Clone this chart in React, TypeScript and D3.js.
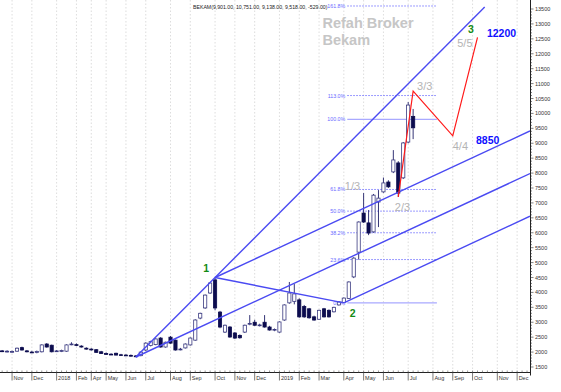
import React from "react";
import * as d3 from "d3";

// weekly candles, index = week number from the left edge
const opens = [2050, 2040, 2020, 2010, 2030, 2150, 2040, 2000, 1990, 2010, 2270, 2230, 2030, 2040, 2030, 2260, 2250, 2200, 2130, 2100, 2080, 2010, 1950, 1930, 1960, 1910, 1900, 1890, 1870, 1880, 2070, 2220, 2250, 2470, 2170, 2500, 2400, 2090, 2140, 2240, 2400, 3140, 3480, 3980, 4420, 3340, 2670, 2840, 2640, 2560, 2670, 2950, 3000, 2900, 3000, 2840, 2740, 2670, 3075, 3650, 3700, 3750, 3530, 3450, 3180, 3100, 3450, 3400, 3350, 3580, 3660, 3800, 4520, 5350, 6660, 6330, 6030, 7030, 7370, 7700, 8040, 8340, 7840, 9040, 9901];
const highs = [2080, 2070, 2060, 2050, 2150, 2180, 2070, 2040, 2050, 2260, 2300, 2250, 2070, 2080, 2260, 2330, 2290, 2230, 2160, 2130, 2100, 2040, 1990, 1960, 1980, 1940, 1930, 1920, 1900, 2020, 2330, 2380, 2460, 2500, 2350, 2540, 2420, 2140, 2290, 2490, 3100, 3320, 3930, 4330, 4500, 3380, 2920, 2870, 2670, 2590, 2920, 3240, 3080, 2950, 3240, 2880, 2790, 3030, 3600, 4350, 4280, 3800, 3580, 3480, 3220, 3420, 3480, 3430, 3520, 3700, 3830, 4370, 5180, 6380, 7330, 6760, 7300, 7430, 7850, 7760, 8770, 8400, 9040, 10380, 10150];
const lows = [2010, 2000, 1990, 1980, 2010, 2050, 1990, 1970, 1960, 1990, 2150, 1990, 2010, 2000, 2010, 2230, 2200, 2150, 2080, 2050, 1980, 1940, 1910, 1900, 1890, 1880, 1870, 1850, 1830, 1860, 2040, 2190, 2230, 2150, 2150, 2280, 2050, 2060, 2120, 2220, 2380, 3100, 3450, 3950, 3400, 2800, 2640, 2480, 2440, 2450, 2640, 2900, 2880, 2860, 2820, 2720, 2700, 2650, 3050, 3620, 3600, 3150, 3150, 3120, 3050, 3080, 3160, 3160, 3330, 3560, 3650, 3780, 4480, 5100, 6330, 5920, 6000, 6190, 7340, 7500, 8000, 7200, 7800, 9000, 9138];
const closes = [2040, 2030, 2030, 2020, 2130, 2070, 2010, 1990, 2020, 2240, 2170, 2010, 2040, 2050, 2240, 2270, 2230, 2170, 2100, 2080, 1990, 1950, 1930, 1920, 1900, 1900, 1890, 1880, 1860, 2000, 2300, 2350, 2440, 2170, 2330, 2300, 2070, 2100, 2270, 2470, 3075, 3300, 3910, 4315, 3480, 2840, 2900, 2505, 2470, 2480, 2900, 2960, 2900, 2910, 2840, 2740, 2760, 3010, 3580, 3980, 3950, 3180, 3180, 3150, 3075, 3400, 3180, 3180, 3500, 3680, 3810, 4350, 5150, 6360, 6360, 5990, 7260, 7160, 7670, 7540, 8440, 7330, 9010, 10280, 9518];

const monthLabels = ["Nov", "Dec", "2018", "Feb", "Apr", "May", "Jun", "Jul", "Aug", "Sep", "Oct", "Nov", "Dec", "2019", "Feb", "Mar", "Apr", "May", "Jun", "Jul", "Aug", "Sep", "Oct", "Nov", "Dec"];
const monthWeeks = [3, 7, 12, 16, 19, 22, 26, 30, 35, 39, 44, 48, 52, 57, 61, 65, 70, 74, 78, 83, 88, 92, 96, 101, 105];

const priceTicks = d3.range(1500, 13501, 500);

// pitchfork anchors: [week, price]
const pivot: [number, number] = [28, 1835];
const point1: [number, number] = [44, 4500];
const point2: [number, number] = [70, 3650];
const fanTopPrice = 13570;

// projected wave path (red)
const waveWeeks = [81, 84, 92, 97];
const wavePrices = [7200, 10751, 9250, 12550];

// fibonacci levels between point 2 low and the recent high
const fibLow = 3650;
const fibHigh = 9800;
const fibRatios = [1.618, 1.13, 1.0, 0.618, 0.5, 0.382, 0.236, 0.0];
const fibLabels = ["161.8%", "113.0%", "100.0%", "61.8%", "50.0%", "38.2%", "23.6%", "0.0%"];
const fibFrom = 70.7;
const fibTo = 88.8;

// text annotations in [week, price]
const noteTexts = ["1", "2", "3", "12200", "5/5", "4/4", "8850", "3/3", "1/3", "2/3"];
const noteWeeks = [41.6, 71.2, 95.1, 98.9, 92.9, 92.0, 96.7, 84.8, 70.2, 80.3];
const notePrices = [4684, 3176, 12695, 12561, 12226, 8774, 8975, 10785, 7433, 6729];
const noteKinds = ["wave", "wave", "wave", "target", "count", "count", "target", "count", "count", "count"];

const W = 561;
const H = 392;
const FONT = "'Liberation Sans', Arial, sans-serif";

export default function App() {
  const x = d3.scaleLinear().domain([0, 107.6]).range([-2.8, 530]);
  const y = d3.scaleLinear().domain([1500, 13500]).range([367, 9]);
  const right = 530;
  const bottom = 372.5;
  const maxWeek = x.domain()[1];

  const line = d3
    .line<[number, number]>()
    .x((d) => x(d[0]))
    .y((d) => y(d[1]));

  const extend = (a: [number, number], b: [number, number], toWeek: number): [number, number] => {
    const slope = (b[1] - a[1]) / (b[0] - a[0]);
    return [toWeek, a[1] + slope * (toWeek - a[0])];
  };

  // steep fan line from pivot through point 1 up to the top of the chart
  const fanSlope = (point1[1] - pivot[1]) / (point1[0] - pivot[0]);
  const fanEnd: [number, number] = [pivot[0] + (fanTopPrice - pivot[1]) / fanSlope, fanTopPrice];

  // pitchfork: median through the midpoint of 1-2, parallels through 1 and 2
  const mid: [number, number] = [(point1[0] + point2[0]) / 2, (point1[1] + point2[1]) / 2];
  const medianEnd = extend(pivot, mid, maxWeek);
  const forkSlope = (mid[1] - pivot[1]) / (mid[0] - pivot[0]);
  const upperEnd: [number, number] = [maxWeek, point1[1] + forkSlope * (maxWeek - point1[0])];
  const lowerEnd: [number, number] = [maxWeek, point2[1] + forkSlope * (maxWeek - point2[0])];

  const trendLines: [number, number][][] = [
    [pivot, fanEnd],
    [pivot, medianEnd],
    [point1, upperEnd],
    [point2, lowerEnd],
    [point1, point2],
  ];

  const wave: [number, number][] = waveWeeks.map((w, i) => [w, wavePrices[i]]);
  const bodyW = 3.2;

  return (
    <svg
      width={W}
      height={H}
      style={{ position: "absolute", left: 0, top: 0, background: "#fff" }}
      fontFamily={FONT}
    >
      <defs>
        <clipPath id="plot">
          <rect x={0} y={0} width={right} height={bottom} />
        </clipPath>
      </defs>
      <rect width={W} height={H} fill="#fff" />

      {/* month grid */}
      {monthWeeks.map((w, i) => (
        <line
          key={"g" + i}
          x1={x(w)}
          x2={x(w)}
          y1={0}
          y2={bottom}
          stroke="#d4d4d4"
          strokeWidth={0.8}
          strokeDasharray="1.5 2"
        />
      ))}

      <text x={193} y={8.5} fontSize={5.2} fill="#222">
        BEKAM(9,901.00, 10,751.00, 9,138.00, 9,518.00, -529.00)
      </text>

      <text x={322.5} y={27.5} fontSize={14.5} fontWeight="bold" fill="#c6c6c6">
        Refah Broker
      </text>
      <text x={322.5} y={45} fontSize={14.5} fontWeight="bold" fill="#c6c6c6">
        Bekam
      </text>

      <g clipPath="url(#plot)">
        {/* fibonacci levels */}
        {fibRatios.map((r, i) => {
          const v = fibLow + r * (fibHigh - fibLow);
          const solid = r === 1 || r === 0;
          return (
            <g key={"f" + i}>
              <line
                x1={x(fibFrom)}
                x2={x(fibTo)}
                y1={y(v)}
                y2={y(v)}
                stroke={solid ? "#a9a9ff" : "#6c6cff"}
                strokeWidth={solid ? 1.2 : 0.9}
                strokeDasharray={solid ? undefined : "1.5 1.5"}
              />
              <text x={x(fibFrom) - 2} y={y(v) + 2} fontSize={5.3} fill="#6a6aff" textAnchor="end">
                {fibLabels[i]}
              </text>
            </g>
          );
        })}

        {/* candles */}
        {opens.map((o, i) => {
          const c = closes[i];
          const up = c >= o;
          const top = y(Math.max(o, c));
          const h = Math.max(0.8, Math.abs(y(o) - y(c)));
          return (
            <g key={"c" + i}>
              <line x1={x(i)} x2={x(i)} y1={y(highs[i])} y2={y(lows[i])} stroke="#1e1e66" strokeWidth={0.9} />
              <rect
                x={x(i) - bodyW / 2}
                y={top}
                width={bodyW}
                height={h}
                fill={up ? "#fff" : "#0c0c4e"}
                stroke={up ? "#3a3a80" : "#0c0c4e"}
                strokeWidth={0.8}
              />
            </g>
          );
        })}

        {trendLines.map((pts, i) => (
          <path key={"t" + i} d={line(pts) || ""} fill="none" stroke="#4a4af2" strokeWidth={1.4} />
        ))}

        <path d={line(wave) || ""} fill="none" stroke="#ff1a1a" strokeWidth={1.2} />
      </g>

      {/* annotations */}
      {noteTexts.map((t, i) => {
        const kind = noteKinds[i];
        const fill = kind === "wave" ? "#138a13" : kind === "target" ? "#1010ff" : "#b4b4b4";
        const size = kind === "count" ? 11 : 10.5;
        return (
          <text
            key={"n" + i}
            x={x(noteWeeks[i])}
            y={y(notePrices[i])}
            fontSize={size}
            fontWeight={kind === "count" ? "normal" : "bold"}
            fill={fill}
          >
            {t}
          </text>
        );
      })}

      {/* right price axis */}
      <line x1={right + 0.5} x2={right + 0.5} y1={0} y2={bottom + 3} stroke="#222" strokeWidth={1} />
      {d3.range(1500, 13501, 100).map((v) => (
        <line
          key={"m" + v}
          x1={right + 0.5}
          x2={right + (v % 500 === 0 ? 3.5 : 2)}
          y1={y(v)}
          y2={y(v)}
          stroke="#333"
          strokeWidth={0.6}
        />
      ))}
      {priceTicks.map((v) => (
        <text key={"p" + v} x={right + 5} y={y(v) + 2} fontSize={5.5} fill="#333">
          {v}
        </text>
      ))}

      {/* bottom time axis */}
      <line x1={0} x2={right + 0.5} y1={bottom} y2={bottom} stroke="#222" strokeWidth={1} />
      {d3.range(0, 108).map((w) => (
        <line key={"w" + w} x1={x(w)} x2={x(w)} y1={bottom - 2} y2={bottom} stroke="#555" strokeWidth={0.6} />
      ))}
      {monthWeeks.map((w, i) => (
        <g key={"l" + i}>
          <line x1={x(w)} x2={x(w)} y1={bottom} y2={bottom + 8} stroke="#444" strokeWidth={0.7} />
          <text x={x(w) + 1.5} y={bottom + 7.5} fontSize={5.5} fill="#333">
            {monthLabels[i]}
          </text>
        </g>
      ))}
    </svg>
  );
}
